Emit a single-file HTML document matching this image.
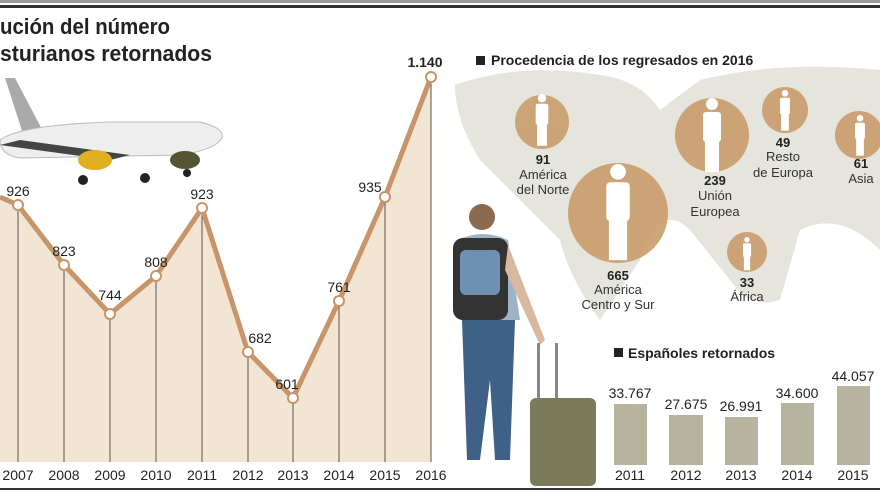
<!DOCTYPE html><html><head><meta charset="utf-8"><style>
body{margin:0;width:880px;height:495px;overflow:hidden;background:#fff;font-family:"Liberation Sans",sans-serif}
</style></head><body>
<svg width="880" height="495" viewBox="0 0 880 495" xmlns="http://www.w3.org/2000/svg" font-family="Liberation Sans, sans-serif">
<defs>
<g id="p"><circle cx="0" cy="-34" r="6"/><rect x="-9" y="-26" width="18" height="30" rx="3"/><rect x="-7" y="2" width="14" height="32"/></g>
</defs>
<rect x="0" y="0" width="880" height="3" fill="#9a9a9a"/>
<rect x="0" y="5" width="880" height="3" fill="#333"/>
<text x="0" y="34" font-size="22" font-weight="bold" fill="#222" textLength="170" lengthAdjust="spacingAndGlyphs">ución del número</text>
<text x="0" y="61" font-size="22" font-weight="bold" fill="#222" textLength="212" lengthAdjust="spacingAndGlyphs">sturianos retornados</text>
<!-- map background -->
<path d="M455 85 Q520 62 600 75 Q640 80 660 110 L700 80 Q780 60 880 70 L880 250 Q840 210 800 230 L780 300 Q750 310 730 280 L690 230 Q660 200 640 260 L600 320 Q570 280 560 240 Q520 200 480 160 Q455 120 455 85Z" fill="#dcdbd2" opacity="0.75"/>
<!-- line chart fill -->
<polygon points="0,462 0,197 18,205 64,265 110,314 156,276 202,208 248,352 293,398 339,301 385,197 431,77 431,462" fill="#f3e5d3"/>
<g stroke="#555" stroke-width="1">
<line x1="18" y1="205" x2="18" y2="462"/><line x1="64" y1="265" x2="64" y2="462"/><line x1="110" y1="314" x2="110" y2="462"/><line x1="156" y1="276" x2="156" y2="462"/><line x1="202" y1="208" x2="202" y2="462"/><line x1="248" y1="352" x2="248" y2="462"/><line x1="293" y1="398" x2="293" y2="462"/><line x1="339" y1="301" x2="339" y2="462"/><line x1="385" y1="197" x2="385" y2="462"/><line x1="431" y1="77" x2="431" y2="462"/>
</g>
<polyline points="0,197 18,205 64,265 110,314 156,276 202,208 248,352 293,398 339,301 385,197 431,77" fill="none" stroke="#c8956a" stroke-width="5" stroke-linejoin="round"/>
<g fill="#fff" stroke="#c8956a" stroke-width="2">
<circle cx="18" cy="205" r="5"/><circle cx="64" cy="265" r="5"/><circle cx="110" cy="314" r="5"/><circle cx="156" cy="276" r="5"/><circle cx="202" cy="208" r="5"/><circle cx="248" cy="352" r="5"/><circle cx="293" cy="398" r="5"/><circle cx="339" cy="301" r="5"/><circle cx="385" cy="197" r="5"/><circle cx="431" cy="77" r="5"/>
</g>
<g font-size="14" fill="#222" text-anchor="middle">
<text x="18" y="196">926</text><text x="64" y="256">823</text><text x="110" y="300">744</text><text x="156" y="267">808</text><text x="202" y="199">923</text><text x="260" y="343">682</text><text x="287" y="389">601</text><text x="339" y="292">761</text><text x="370" y="192">935</text><text x="425" y="67" font-weight="bold">1.140</text>
</g>
<g font-size="14" fill="#222" text-anchor="middle">
<text x="18" y="480">2007</text><text x="64" y="480">2008</text><text x="110" y="480">2009</text><text x="156" y="480">2010</text><text x="202" y="480">2011</text><text x="248" y="480">2012</text><text x="293" y="480">2013</text><text x="339" y="480">2014</text><text x="385" y="480">2015</text><text x="431" y="480">2016</text>
</g>
<!-- plane -->
<g>
<path d="M5 78 L15 78 L45 135 L25 140Z" fill="#aaa"/>
<path d="M0 140 Q20 125 110 122 L200 122 Q225 128 222 138 Q215 150 180 155 L20 158 Q0 155 0 140Z" fill="#eee" stroke="#bbb"/>
<path d="M0 145 L110 160 L130 155 L20 140Z" fill="#444"/>
<ellipse cx="95" cy="160" rx="17" ry="10" fill="#e0b020"/>
<ellipse cx="185" cy="160" rx="15" ry="9" fill="#553"/>
<circle cx="83" cy="180" r="5" fill="#222"/><circle cx="145" cy="178" r="5" fill="#222"/><circle cx="187" cy="173" r="4" fill="#222"/>
</g>
<!-- map section -->
<rect x="476" y="56" width="9" height="9" fill="#222"/>
<text x="491" y="65" font-size="14" font-weight="bold" fill="#222">Procedencia de los  regresados en 2016</text>
<g fill="#c99d6c" opacity="0.9">
<circle cx="542" cy="122" r="27"/><circle cx="618" cy="213" r="50"/><circle cx="712" cy="135" r="37"/><circle cx="785" cy="110" r="23"/><circle cx="859" cy="135" r="24"/><circle cx="747" cy="252" r="20"/>
</g>
<g fill="#fff">
<use href="#p" transform="translate(542,122) scale(0.7)"/>
<use href="#p" transform="translate(618,216) scale(1.3)"/>
<use href="#p" transform="translate(712,138) scale(1.0)"/>
<use href="#p" transform="translate(785,112) scale(0.55)"/>
<use href="#p" transform="translate(860,137) scale(0.55)"/>
<use href="#p" transform="translate(747,255) scale(0.45)"/>
</g>
<g font-size="13" fill="#333" text-anchor="middle">
<text x="543" y="164" font-weight="bold" fill="#222">91</text><text x="543" y="179">América</text><text x="543" y="194">del Norte</text>
<text x="618" y="280" font-weight="bold" fill="#222">665</text><text x="618" y="294">América</text><text x="618" y="309">Centro y Sur</text>
<text x="715" y="185" font-weight="bold" fill="#222">239</text><text x="715" y="200">Unión</text><text x="715" y="216">Europea</text>
<text x="783" y="147" font-weight="bold" fill="#222">49</text><text x="783" y="161">Resto</text><text x="783" y="177">de Europa</text>
<text x="861" y="168" font-weight="bold" fill="#222">61</text><text x="861" y="183">Asia</text>
<text x="747" y="287" font-weight="bold" fill="#222">33</text><text x="747" y="301">África</text>
</g>
<!-- traveler -->
<circle cx="482" cy="217" r="13" fill="#8a6a50"/>
<path d="M458 240 Q482 228 508 240 L520 320 L462 320Z" fill="#9fb3c8"/>
<rect x="453" y="238" width="55" height="82" rx="10" fill="#333"/>
<rect x="460" y="250" width="40" height="45" rx="6" fill="#6d8fb0"/>
<path d="M462 320 L515 320 L510 460 L495 460 L490 380 L480 460 L467 460Z" fill="#3f6087"/>
<path d="M508 245 L545 340 L540 345 L505 270Z" fill="#d9b8a0"/>
<rect x="537" y="343" width="3" height="60" fill="#888"/><rect x="555" y="343" width="3" height="60" fill="#888"/>
<rect x="530" y="398" width="66" height="88" rx="6" fill="#7b7a5a"/>
<!-- bars -->
<rect x="614" y="348" width="9" height="9" fill="#222"/>
<text x="628" y="358" font-size="14" font-weight="bold" fill="#222">Españoles retornados</text>
<g fill="#b6b49f">
<rect x="614" y="404" width="33" height="61"/><rect x="669" y="415" width="34" height="50"/><rect x="725" y="417" width="33" height="48"/><rect x="781" y="403" width="33" height="62"/><rect x="837" y="386" width="33" height="79"/>
</g>
<g font-size="14" fill="#222" text-anchor="middle">
<text x="630" y="398">33.767</text><text x="686" y="409">27.675</text><text x="741" y="411">26.991</text><text x="797" y="398">34.600</text><text x="853" y="381">44.057</text>
<text x="630" y="480">2011</text><text x="686" y="480">2012</text><text x="741" y="480">2013</text><text x="797" y="480">2014</text><text x="853" y="480">2015</text>
</g>
<rect x="0" y="488" width="880" height="2" fill="#333"/>
</svg>
</body></html>
